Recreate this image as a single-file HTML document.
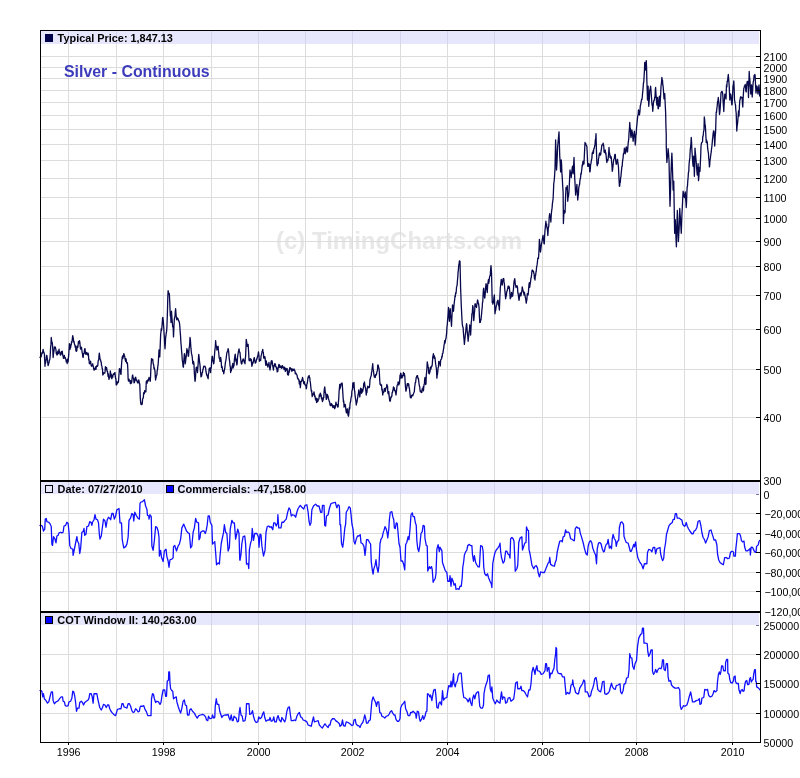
<!DOCTYPE html>
<html><head><meta charset="utf-8"><title>Silver - Continuous</title>
<style>html,body{margin:0;padding:0;background:#fff;}body{width:800px;height:778px;overflow:hidden;font-family:"Liberation Sans",sans-serif;}svg{display:block;will-change:transform;}text{font-family:"Liberation Sans",sans-serif;}</style>
</head><body>
<svg width="800" height="778" viewBox="0 0 800 778">
<rect x="0" y="0" width="800" height="778" fill="#ffffff"/>
<text x="276" y="249" font-size="24" font-weight="bold" fill="#e8e8e8" textLength="246" lengthAdjust="spacingAndGlyphs">(c) TimingCharts.com</text>
<g shape-rendering="crispEdges" stroke="#dcdcdc" stroke-width="1" fill="none">
<line x1="68.5" y1="31" x2="68.5" y2="742"/>
<line x1="116.5" y1="31" x2="116.5" y2="742"/>
<line x1="163.5" y1="31" x2="163.5" y2="742"/>
<line x1="211.5" y1="31" x2="211.5" y2="742"/>
<line x1="258.5" y1="31" x2="258.5" y2="742"/>
<line x1="305.5" y1="31" x2="305.5" y2="742"/>
<line x1="352.5" y1="31" x2="352.5" y2="742"/>
<line x1="400.5" y1="31" x2="400.5" y2="742"/>
<line x1="447.5" y1="31" x2="447.5" y2="742"/>
<line x1="494.5" y1="31" x2="494.5" y2="742"/>
<line x1="542.5" y1="31" x2="542.5" y2="742"/>
<line x1="589.5" y1="31" x2="589.5" y2="742"/>
<line x1="636.5" y1="31" x2="636.5" y2="742"/>
<line x1="684.5" y1="31" x2="684.5" y2="742"/>
<line x1="732.5" y1="31" x2="732.5" y2="742"/>
<line x1="41" y1="56.5" x2="760" y2="56.5"/>
<line x1="41" y1="67.5" x2="760" y2="67.5"/>
<line x1="41" y1="78.5" x2="760" y2="78.5"/>
<line x1="41" y1="90.5" x2="760" y2="90.5"/>
<line x1="41" y1="102.5" x2="760" y2="102.5"/>
<line x1="41" y1="115.5" x2="760" y2="115.5"/>
<line x1="41" y1="129.5" x2="760" y2="129.5"/>
<line x1="41" y1="144.5" x2="760" y2="144.5"/>
<line x1="41" y1="160.5" x2="760" y2="160.5"/>
<line x1="41" y1="178.5" x2="760" y2="178.5"/>
<line x1="41" y1="197.5" x2="760" y2="197.5"/>
<line x1="41" y1="218.5" x2="760" y2="218.5"/>
<line x1="41" y1="241.5" x2="760" y2="241.5"/>
<line x1="41" y1="266.5" x2="760" y2="266.5"/>
<line x1="41" y1="295.5" x2="760" y2="295.5"/>
<line x1="41" y1="329.5" x2="760" y2="329.5"/>
<line x1="41" y1="369.5" x2="760" y2="369.5"/>
<line x1="41" y1="417.5" x2="760" y2="417.5"/>
<line x1="41" y1="513.5" x2="760" y2="513.5"/>
<line x1="41" y1="533.5" x2="760" y2="533.5"/>
<line x1="41" y1="552.5" x2="760" y2="552.5"/>
<line x1="41" y1="572.5" x2="760" y2="572.5"/>
<line x1="41" y1="591.5" x2="760" y2="591.5"/>
<line x1="41" y1="654.5" x2="760" y2="654.5"/>
<line x1="41" y1="683.5" x2="760" y2="683.5"/>
<line x1="41" y1="713.5" x2="760" y2="713.5"/>
</g>
<rect x="41" y="31" width="718" height="13" fill="#e6e6fc" shape-rendering="crispEdges"/>
<rect x="68" y="31" width="1" height="13" fill="#d4d4ee" shape-rendering="crispEdges"/>
<rect x="116" y="31" width="1" height="13" fill="#d4d4ee" shape-rendering="crispEdges"/>
<rect x="163" y="31" width="1" height="13" fill="#d4d4ee" shape-rendering="crispEdges"/>
<rect x="211" y="31" width="1" height="13" fill="#d4d4ee" shape-rendering="crispEdges"/>
<rect x="258" y="31" width="1" height="13" fill="#d4d4ee" shape-rendering="crispEdges"/>
<rect x="305" y="31" width="1" height="13" fill="#d4d4ee" shape-rendering="crispEdges"/>
<rect x="352" y="31" width="1" height="13" fill="#d4d4ee" shape-rendering="crispEdges"/>
<rect x="400" y="31" width="1" height="13" fill="#d4d4ee" shape-rendering="crispEdges"/>
<rect x="447" y="31" width="1" height="13" fill="#d4d4ee" shape-rendering="crispEdges"/>
<rect x="494" y="31" width="1" height="13" fill="#d4d4ee" shape-rendering="crispEdges"/>
<rect x="542" y="31" width="1" height="13" fill="#d4d4ee" shape-rendering="crispEdges"/>
<rect x="589" y="31" width="1" height="13" fill="#d4d4ee" shape-rendering="crispEdges"/>
<rect x="636" y="31" width="1" height="13" fill="#d4d4ee" shape-rendering="crispEdges"/>
<rect x="684" y="31" width="1" height="13" fill="#d4d4ee" shape-rendering="crispEdges"/>
<rect x="732" y="31" width="1" height="13" fill="#d4d4ee" shape-rendering="crispEdges"/>
<rect x="41" y="482" width="718" height="12" fill="#e6e6fc" shape-rendering="crispEdges"/>
<rect x="68" y="482" width="1" height="12" fill="#d4d4ee" shape-rendering="crispEdges"/>
<rect x="116" y="482" width="1" height="12" fill="#d4d4ee" shape-rendering="crispEdges"/>
<rect x="163" y="482" width="1" height="12" fill="#d4d4ee" shape-rendering="crispEdges"/>
<rect x="211" y="482" width="1" height="12" fill="#d4d4ee" shape-rendering="crispEdges"/>
<rect x="258" y="482" width="1" height="12" fill="#d4d4ee" shape-rendering="crispEdges"/>
<rect x="305" y="482" width="1" height="12" fill="#d4d4ee" shape-rendering="crispEdges"/>
<rect x="352" y="482" width="1" height="12" fill="#d4d4ee" shape-rendering="crispEdges"/>
<rect x="400" y="482" width="1" height="12" fill="#d4d4ee" shape-rendering="crispEdges"/>
<rect x="447" y="482" width="1" height="12" fill="#d4d4ee" shape-rendering="crispEdges"/>
<rect x="494" y="482" width="1" height="12" fill="#d4d4ee" shape-rendering="crispEdges"/>
<rect x="542" y="482" width="1" height="12" fill="#d4d4ee" shape-rendering="crispEdges"/>
<rect x="589" y="482" width="1" height="12" fill="#d4d4ee" shape-rendering="crispEdges"/>
<rect x="636" y="482" width="1" height="12" fill="#d4d4ee" shape-rendering="crispEdges"/>
<rect x="684" y="482" width="1" height="12" fill="#d4d4ee" shape-rendering="crispEdges"/>
<rect x="732" y="482" width="1" height="12" fill="#d4d4ee" shape-rendering="crispEdges"/>
<rect x="41" y="613" width="718" height="12" fill="#e6e6fc" shape-rendering="crispEdges"/>
<rect x="68" y="613" width="1" height="12" fill="#d4d4ee" shape-rendering="crispEdges"/>
<rect x="116" y="613" width="1" height="12" fill="#d4d4ee" shape-rendering="crispEdges"/>
<rect x="163" y="613" width="1" height="12" fill="#d4d4ee" shape-rendering="crispEdges"/>
<rect x="211" y="613" width="1" height="12" fill="#d4d4ee" shape-rendering="crispEdges"/>
<rect x="258" y="613" width="1" height="12" fill="#d4d4ee" shape-rendering="crispEdges"/>
<rect x="305" y="613" width="1" height="12" fill="#d4d4ee" shape-rendering="crispEdges"/>
<rect x="352" y="613" width="1" height="12" fill="#d4d4ee" shape-rendering="crispEdges"/>
<rect x="400" y="613" width="1" height="12" fill="#d4d4ee" shape-rendering="crispEdges"/>
<rect x="447" y="613" width="1" height="12" fill="#d4d4ee" shape-rendering="crispEdges"/>
<rect x="494" y="613" width="1" height="12" fill="#d4d4ee" shape-rendering="crispEdges"/>
<rect x="542" y="613" width="1" height="12" fill="#d4d4ee" shape-rendering="crispEdges"/>
<rect x="589" y="613" width="1" height="12" fill="#d4d4ee" shape-rendering="crispEdges"/>
<rect x="636" y="613" width="1" height="12" fill="#d4d4ee" shape-rendering="crispEdges"/>
<rect x="684" y="613" width="1" height="12" fill="#d4d4ee" shape-rendering="crispEdges"/>
<rect x="732" y="613" width="1" height="12" fill="#d4d4ee" shape-rendering="crispEdges"/>
<text x="64" y="77" font-size="15.9" font-weight="bold" fill="#3c3cbc">Silver - Continuous</text>
<path d="M40.00,357.50 L40.31,356.85 L40.62,357.54 L40.94,356.27 L41.25,356.25 L41.56,354.70 L41.87,352.75 L42.19,352.54 L42.50,353.12 L42.81,351.08 L43.12,349.38 L43.44,351.82 L43.75,351.89 L44.06,353.17 L44.38,353.75 L44.69,360.24 L45.00,366.25 L45.30,361.96 L45.60,363.11 L45.90,360.53 L46.20,358.39 L46.50,355.62 L46.82,355.42 L47.15,357.35 L47.47,360.46 L47.80,363.01 L48.12,365.62 L48.43,364.77 L48.75,363.06 L49.06,362.55 L49.37,359.79 L49.69,359.77 L50.00,358.12 L50.31,353.48 L50.62,346.95 L50.94,344.89 L51.25,337.50 L51.56,340.10 L51.88,342.81 L52.19,342.32 L52.50,345.00 L52.81,350.29 L53.12,357.50 L53.44,354.40 L53.75,352.05 L54.06,350.36 L54.38,346.88 L54.69,347.67 L55.00,347.23 L55.31,347.04 L55.62,348.75 L55.94,349.64 L56.25,353.46 L56.56,352.39 L56.88,355.00 L57.19,354.69 L57.50,354.30 L57.81,351.19 L58.13,352.56 L58.44,353.57 L58.75,351.25 L59.06,349.26 L59.37,352.08 L59.69,352.99 L60.00,352.69 L60.31,355.02 L60.62,355.00 L60.95,354.17 L61.27,351.60 L61.60,353.83 L61.92,352.87 L62.25,351.25 L62.69,354.98 L63.12,356.25 L63.43,358.33 L63.75,357.14 L64.06,357.03 L64.37,355.39 L64.69,358.09 L65.00,357.50 L65.31,357.80 L65.62,359.10 L65.94,359.14 L66.25,361.88 L66.56,360.62 L66.87,361.19 L67.19,363.56 L67.50,359.24 L67.81,359.98 L68.12,361.88 L68.44,357.66 L68.75,354.69 L69.06,349.03 L69.38,343.75 L69.69,344.10 L70.00,349.38 L70.31,345.01 L70.62,347.65 L70.94,345.14 L71.25,345.00 L71.55,341.67 L71.85,342.52 L72.15,340.80 L72.45,337.70 L72.75,335.62 L73.06,337.35 L73.38,339.00 L73.69,341.91 L74.00,341.25 L74.33,343.51 L74.67,344.84 L75.00,345.62 L75.30,347.46 L75.60,345.83 L75.90,350.66 L76.20,351.37 L76.50,351.25 L76.82,350.69 L77.15,346.18 L77.47,346.68 L77.80,347.34 L78.12,345.00 L78.44,341.55 L78.75,342.57 L79.06,343.04 L79.38,340.62 L79.81,342.05 L80.25,346.88 L80.56,349.13 L80.88,347.91 L81.19,347.15 L81.50,347.50 L81.82,349.92 L82.15,352.34 L82.47,353.66 L82.80,356.99 L83.12,357.50 L83.45,354.89 L83.77,353.46 L84.10,353.60 L84.42,350.53 L84.75,348.75 L85.05,348.73 L85.35,352.23 L85.65,354.03 L85.95,352.68 L86.25,354.38 L86.56,352.38 L86.87,353.78 L87.19,353.56 L87.50,353.15 L87.81,355.16 L88.12,353.12 L88.44,354.44 L88.75,360.07 L89.06,359.44 L89.38,363.75 L89.69,362.10 L90.00,363.32 L90.31,363.34 L90.62,361.25 L91.06,364.87 L91.50,366.25 L91.81,366.07 L92.12,365.19 L92.44,364.57 L92.75,363.75 L93.06,366.06 L93.38,366.65 L93.69,368.80 L94.00,370.00 L94.32,370.12 L94.65,368.75 L94.97,369.12 L95.30,368.24 L95.62,366.88 L95.93,369.39 L96.25,367.09 L96.56,366.01 L96.87,365.98 L97.19,366.34 L97.50,366.25 L97.80,365.32 L98.10,361.56 L98.40,360.37 L98.70,360.13 L99.00,355.62 L99.32,353.16 L99.65,355.91 L99.97,358.57 L100.30,359.64 L100.62,360.00 L100.94,361.87 L101.25,362.56 L101.56,365.54 L101.88,366.25 L102.19,368.49 L102.50,369.32 L102.81,375.03 L103.12,373.75 L103.45,374.09 L103.77,372.78 L104.10,373.24 L104.42,372.95 L104.75,373.12 L105.06,371.63 L105.38,366.76 L105.69,368.27 L106.00,367.50 L106.30,369.56 L106.60,367.48 L106.90,369.66 L107.20,371.74 L107.50,371.25 L107.80,373.99 L108.10,376.44 L108.40,373.92 L108.70,377.29 L109.00,379.38 L109.32,377.68 L109.65,377.69 L109.97,377.04 L110.30,370.88 L110.62,373.12 L110.94,375.94 L111.25,374.05 L111.56,378.23 L111.88,378.75 L112.19,375.72 L112.50,376.79 L112.81,377.03 L113.12,374.38 L113.43,373.87 L113.75,374.00 L114.06,374.48 L114.37,373.31 L114.69,372.70 L115.00,372.50 L115.30,376.74 L115.60,378.36 L115.90,378.87 L116.20,385.07 L116.50,383.75 L116.83,381.84 L117.17,384.11 L117.50,382.15 L117.83,382.26 L118.17,382.58 L118.50,381.25 L118.94,375.29 L119.38,368.75 L119.70,370.71 L120.03,369.02 L120.35,370.17 L120.68,374.05 L121.00,374.38 L121.44,365.94 L121.88,360.00 L122.19,357.62 L122.50,356.01 L122.81,358.52 L123.13,356.80 L123.44,356.71 L123.75,353.75 L124.06,353.78 L124.38,356.25 L124.69,356.02 L125.00,358.75 L125.31,360.06 L125.62,361.44 L125.94,358.53 L126.25,360.00 L126.56,362.97 L126.88,363.16 L127.19,362.58 L127.50,363.75 L127.81,368.69 L128.12,378.75 L128.43,381.00 L128.75,379.46 L129.06,379.22 L129.37,380.94 L129.69,381.37 L130.00,381.25 L130.31,383.51 L130.62,380.55 L130.94,383.66 L131.25,382.50 L131.55,382.93 L131.85,381.39 L132.15,377.77 L132.45,375.53 L132.75,375.00 L133.08,377.82 L133.40,378.15 L133.73,379.66 L134.05,382.85 L134.38,382.50 L134.70,381.41 L135.03,378.01 L135.35,379.75 L135.68,377.09 L136.00,378.75 L136.30,380.56 L136.60,380.66 L136.90,380.21 L137.20,381.74 L137.50,382.50 L137.81,382.96 L138.12,381.35 L138.44,382.35 L138.75,380.00 L139.08,381.17 L139.42,383.85 L139.75,383.75 L140.30,398.00 L140.63,402.11 L140.97,404.43 L141.30,404.50 L141.63,403.13 L141.97,404.64 L142.30,403.00 L142.63,398.89 L142.97,398.26 L143.30,398.00 L143.65,392.70 L144.00,392.50 L144.32,393.76 L144.63,390.65 L144.95,392.11 L145.27,391.75 L145.58,391.84 L145.90,391.75 L146.25,382.00 L146.55,380.83 L146.85,381.50 L147.15,383.13 L147.45,380.46 L147.75,380.00 L148.08,380.44 L148.40,380.80 L148.73,378.99 L149.05,377.36 L149.38,378.75 L149.81,379.28 L150.25,381.25 L150.56,377.02 L150.88,367.86 L151.19,363.60 L151.50,358.75 L151.81,360.22 L152.12,360.10 L152.44,359.23 L152.75,359.38 L153.06,362.77 L153.38,364.28 L153.69,364.87 L154.00,368.75 L154.33,367.55 L154.67,369.59 L155.00,371.25 L155.31,376.82 L155.62,380.00 L155.94,378.01 L156.25,376.33 L156.56,375.25 L156.88,375.00 L157.19,370.51 L157.50,369.85 L157.81,365.97 L158.12,365.00 L158.56,357.97 L159.00,350.00 L159.38,350.37 L159.75,356.88 L160.19,346.37 L160.62,335.00 L160.94,332.29 L161.25,328.73 L161.56,330.32 L161.88,327.50 L162.21,323.81 L162.55,317.93 L162.88,317.50 L163.31,321.36 L163.75,327.50 L164.06,333.19 L164.38,337.53 L164.69,344.45 L165.00,348.75 L165.31,344.10 L165.62,337.50 L165.94,335.87 L166.25,332.92 L166.56,331.73 L166.88,327.50 L167.19,319.14 L167.50,309.65 L167.81,297.13 L168.12,290.62 L168.44,292.73 L168.75,294.20 L169.06,293.05 L169.38,294.38 L169.69,300.95 L170.00,308.75 L170.33,315.86 L170.67,315.63 L171.00,322.50 L171.50,311.25 L171.88,316.86 L172.25,321.25 L172.69,326.90 L173.12,326.25 L173.50,336.88 L173.94,326.61 L174.38,318.75 L174.69,317.15 L175.00,316.20 L175.31,311.09 L175.62,308.75 L176.06,314.48 L176.50,318.75 L176.82,319.92 L177.15,317.57 L177.47,318.63 L177.80,319.13 L178.12,318.75 L178.44,320.76 L178.75,320.58 L179.06,321.31 L179.38,322.50 L179.81,326.18 L180.25,332.50 L180.58,336.62 L180.92,342.83 L181.25,346.25 L181.58,350.97 L181.92,354.31 L182.25,360.00 L182.69,362.35 L183.12,366.88 L183.44,367.06 L183.75,361.80 L184.06,357.86 L184.38,353.75 L184.81,355.38 L185.25,363.75 L185.58,361.56 L185.90,358.37 L186.23,356.94 L186.55,352.31 L186.88,348.75 L187.20,350.16 L187.53,352.43 L187.85,350.72 L188.18,356.09 L188.50,356.25 L188.80,352.92 L189.10,347.84 L189.40,346.72 L189.70,343.60 L190.00,337.50 L190.31,339.11 L190.62,343.51 L190.94,348.19 L191.25,351.25 L191.56,353.68 L191.88,355.11 L192.19,356.55 L192.50,360.00 L192.80,363.76 L193.10,363.35 L193.40,361.45 L193.70,362.25 L194.00,365.00 L194.33,372.63 L194.67,377.12 L195.00,381.25 L195.31,380.18 L195.62,375.43 L195.94,369.80 L196.25,367.50 L196.56,369.09 L196.88,367.19 L197.19,370.28 L197.50,372.50 L197.81,367.89 L198.12,364.12 L198.44,357.96 L198.75,354.38 L199.06,356.87 L199.38,360.29 L199.69,362.83 L200.00,365.00 L200.33,369.79 L200.67,373.19 L201.00,376.88 L201.30,375.58 L201.60,376.15 L201.90,374.32 L202.20,372.30 L202.50,372.50 L202.81,370.12 L203.12,369.37 L203.44,367.67 L203.75,366.25 L204.06,366.45 L204.38,366.25 L204.69,366.48 L205.00,366.25 L205.31,367.64 L205.62,367.74 L205.94,371.49 L206.25,372.50 L206.56,374.91 L206.87,375.15 L207.19,375.38 L207.50,377.25 L207.81,376.45 L208.12,378.75 L208.44,373.63 L208.75,373.51 L209.06,369.57 L209.38,368.12 L209.69,370.18 L210.00,368.90 L210.31,367.99 L210.62,372.50 L210.95,367.90 L211.27,368.05 L211.60,362.25 L211.92,357.72 L212.25,356.25 L212.55,356.76 L212.85,359.93 L213.15,361.40 L213.45,362.48 L213.75,363.75 L214.06,361.82 L214.37,356.96 L214.69,352.16 L215.00,349.11 L215.31,346.63 L215.62,340.62 L215.94,344.23 L216.25,346.64 L216.56,346.25 L216.88,350.00 L217.19,348.87 L217.50,349.07 L217.81,346.80 L218.12,346.25 L218.44,350.76 L218.75,353.28 L219.06,356.81 L219.38,358.75 L219.69,358.16 L220.00,361.44 L220.31,359.42 L220.62,357.50 L220.94,359.41 L221.25,361.99 L221.56,367.44 L221.88,366.25 L222.19,367.05 L222.50,369.89 L222.81,371.27 L223.13,371.26 L223.44,370.98 L223.75,373.75 L224.06,371.91 L224.37,370.05 L224.69,368.97 L225.00,366.43 L225.31,363.37 L225.62,361.25 L225.94,360.17 L226.25,357.58 L226.56,354.96 L226.88,352.50 L227.18,351.95 L227.48,350.94 L227.78,351.52 L228.08,348.63 L228.38,349.38 L228.71,352.10 L229.05,356.47 L229.38,360.00 L229.69,361.22 L230.00,365.68 L230.31,366.76 L230.62,372.50 L230.93,370.36 L231.25,370.74 L231.56,369.49 L231.87,367.43 L232.19,365.95 L232.50,365.00 L232.81,363.47 L233.12,368.00 L233.44,366.61 L233.75,366.25 L234.06,364.86 L234.38,359.48 L234.69,357.57 L235.00,355.00 L235.31,354.30 L235.63,359.35 L235.94,361.22 L236.25,359.20 L236.57,363.27 L236.88,365.00 L237.19,363.32 L237.50,357.71 L237.81,355.13 L238.13,353.62 L238.44,351.68 L238.75,350.00 L239.06,348.80 L239.38,351.29 L239.69,352.20 L240.00,352.50 L240.31,356.45 L240.62,358.75 L240.94,360.91 L241.25,363.20 L241.56,364.01 L241.88,363.75 L242.20,361.17 L242.53,361.34 L242.85,359.75 L243.18,358.85 L243.50,359.38 L243.80,360.15 L244.10,361.14 L244.40,362.64 L244.70,360.81 L245.00,363.75 L245.31,358.39 L245.62,356.25 L245.94,347.78 L246.25,339.38 L246.58,341.41 L246.92,343.56 L247.25,346.25 L247.69,345.23 L248.12,344.38 L248.56,351.20 L249.00,360.00 L249.32,360.79 L249.65,360.21 L249.97,359.51 L250.30,358.63 L250.62,359.38 L250.94,360.87 L251.25,359.28 L251.56,363.26 L251.88,366.25 L252.19,365.36 L252.50,362.42 L252.81,363.70 L253.12,362.50 L253.56,360.50 L254.00,358.12 L254.31,357.58 L254.62,360.29 L254.94,361.46 L255.25,363.12 L255.58,362.97 L255.90,362.42 L256.23,360.83 L256.55,359.02 L256.88,359.38 L257.20,357.69 L257.53,356.29 L257.85,355.83 L258.18,353.76 L258.50,351.88 L258.94,355.63 L259.38,361.25 L259.69,359.33 L260.00,360.45 L260.31,359.81 L260.62,360.62 L261.06,356.05 L261.50,354.38 L261.81,352.98 L262.12,351.24 L262.44,350.77 L262.75,349.38 L263.06,351.94 L263.38,352.59 L263.69,358.03 L264.00,356.88 L264.33,356.46 L264.67,358.31 L265.00,356.88 L265.31,360.47 L265.62,363.75 L265.93,365.31 L266.25,360.87 L266.56,363.09 L266.87,364.49 L267.19,365.06 L267.50,364.38 L267.80,367.04 L268.10,364.05 L268.40,364.92 L268.70,363.87 L269.00,362.50 L269.33,366.23 L269.67,368.16 L270.00,370.00 L270.33,367.30 L270.67,365.66 L271.00,362.50 L271.31,360.94 L271.62,363.73 L271.94,360.71 L272.25,361.88 L272.69,365.32 L273.12,368.12 L273.45,370.00 L273.77,366.08 L274.10,365.52 L274.42,366.14 L274.75,363.75 L275.05,364.41 L275.35,363.95 L275.65,365.96 L275.95,367.01 L276.25,366.88 L276.56,368.74 L276.88,367.75 L277.19,371.96 L277.50,370.62 L277.80,371.54 L278.10,368.15 L278.40,367.23 L278.70,365.07 L279.00,364.38 L279.31,367.00 L279.62,365.02 L279.94,367.60 L280.25,367.50 L280.58,366.63 L280.90,366.10 L281.23,367.68 L281.55,368.23 L281.88,366.25 L282.19,366.39 L282.50,365.68 L282.81,367.78 L283.12,366.88 L283.43,367.02 L283.75,367.70 L284.06,369.48 L284.37,369.18 L284.69,367.24 L285.00,368.12 L285.31,371.40 L285.63,368.75 L285.94,370.08 L286.25,368.53 L286.57,369.63 L286.88,370.00 L287.20,368.73 L287.53,374.32 L287.85,374.78 L288.18,372.42 L288.50,375.00 L288.80,371.54 L289.10,369.89 L289.40,372.03 L289.70,368.40 L290.00,367.50 L290.31,368.05 L290.63,368.34 L290.94,369.22 L291.25,368.59 L291.57,370.66 L291.88,371.25 L292.20,369.01 L292.53,370.41 L292.85,370.53 L293.18,370.36 L293.50,369.38 L293.80,369.45 L294.10,368.95 L294.40,370.71 L294.70,370.25 L295.00,371.25 L295.31,373.91 L295.62,373.50 L295.94,372.98 L296.25,373.75 L296.56,374.23 L296.88,375.02 L297.19,375.81 L297.50,378.12 L297.81,377.98 L298.12,379.13 L298.44,379.74 L298.75,379.38 L299.06,381.06 L299.37,383.98 L299.69,381.27 L300.00,383.14 L300.31,387.70 L300.62,385.00 L300.93,381.32 L301.25,381.82 L301.56,381.47 L301.87,380.20 L302.19,379.28 L302.50,377.50 L302.80,378.44 L303.10,380.48 L303.40,381.32 L303.70,383.50 L304.00,383.75 L304.31,381.60 L304.62,383.22 L304.94,384.68 L305.25,385.00 L305.58,384.91 L305.92,386.14 L306.25,388.75 L306.56,387.59 L306.87,383.95 L307.19,383.64 L307.50,381.81 L307.81,379.26 L308.12,376.88 L308.45,377.66 L308.77,376.99 L309.10,375.42 L309.42,377.34 L309.75,377.50 L310.06,380.90 L310.38,382.44 L310.69,385.81 L311.00,388.75 L311.30,391.10 L311.60,390.36 L311.90,393.70 L312.20,396.67 L312.50,395.62 L312.80,394.15 L313.10,394.31 L313.40,393.18 L313.70,394.63 L314.00,391.88 L314.32,393.92 L314.65,396.30 L314.97,395.85 L315.30,398.36 L315.62,400.00 L315.93,400.20 L316.25,398.11 L316.56,402.50 L316.87,402.00 L317.19,398.77 L317.50,401.25 L317.80,401.59 L318.10,399.83 L318.40,399.95 L318.70,399.22 L319.00,398.12 L319.31,394.92 L319.62,395.34 L319.94,396.31 L320.25,393.12 L320.56,393.78 L320.88,394.61 L321.19,395.58 L321.50,398.75 L321.82,397.41 L322.15,399.69 L322.47,401.70 L322.80,400.31 L323.12,400.00 L323.45,397.70 L323.77,397.66 L324.10,391.45 L324.42,388.63 L324.75,386.88 L325.05,390.07 L325.35,392.59 L325.65,393.06 L325.95,395.36 L326.25,399.38 L326.56,398.66 L326.88,397.51 L327.19,394.40 L327.50,395.00 L327.81,395.88 L328.13,396.59 L328.44,399.04 L328.75,399.43 L329.07,400.62 L329.38,401.88 L329.69,402.05 L330.00,404.50 L330.31,405.56 L330.62,404.38 L330.93,404.01 L331.25,405.69 L331.56,403.71 L331.87,404.89 L332.19,405.87 L332.50,405.00 L332.82,407.50 L333.14,405.57 L333.46,406.51 L333.79,407.40 L334.11,405.73 L334.43,408.23 L334.75,408.75 L335.05,406.87 L335.35,407.23 L335.65,404.28 L335.95,402.18 L336.25,403.75 L336.56,404.32 L336.87,405.13 L337.19,404.60 L337.50,406.99 L337.81,406.00 L338.12,406.88 L338.45,401.59 L338.77,398.50 L339.10,391.34 L339.42,388.00 L339.75,384.38 L340.00,388.75 L340.33,387.06 L340.67,386.52 L341.00,383.75 L341.31,383.54 L341.62,384.15 L341.94,382.90 L342.25,383.75 L342.69,391.02 L343.12,397.50 L343.44,401.85 L343.75,400.98 L344.06,407.14 L344.38,406.25 L344.81,404.48 L345.25,404.38 L345.58,407.11 L345.92,410.02 L346.25,412.50 L346.58,413.00 L346.92,409.23 L347.25,410.00 L347.56,408.83 L347.88,413.91 L348.19,415.72 L348.50,416.25 L348.94,412.69 L349.38,407.50 L349.70,409.04 L350.03,404.01 L350.35,402.20 L350.68,401.20 L351.00,398.12 L351.30,396.73 L351.60,396.53 L351.90,390.89 L352.20,390.14 L352.50,388.75 L352.80,383.02 L353.10,387.31 L353.40,384.52 L353.70,384.95 L354.00,382.50 L354.33,389.47 L354.67,390.83 L355.00,395.00 L355.31,397.17 L355.62,399.35 L355.94,401.41 L356.25,405.00 L356.56,402.62 L356.88,402.71 L357.19,400.36 L357.50,398.75 L357.81,396.65 L358.12,394.15 L358.44,393.38 L358.75,390.00 L359.08,392.94 L359.42,394.40 L359.75,396.88 L360.19,393.36 L360.62,388.12 L360.94,389.02 L361.25,388.81 L361.56,393.30 L361.88,392.50 L362.19,392.17 L362.50,389.38 L362.81,391.09 L363.12,388.75 L363.44,387.48 L363.75,383.28 L364.06,385.69 L364.38,381.88 L364.69,384.03 L365.00,386.47 L365.31,387.29 L365.62,388.75 L365.94,391.68 L366.25,395.00 L366.55,391.24 L366.85,392.76 L367.15,389.79 L367.45,387.63 L367.75,386.25 L368.08,386.96 L368.40,386.85 L368.73,387.88 L369.05,386.77 L369.38,387.50 L369.69,384.80 L370.00,379.41 L370.31,378.98 L370.62,376.88 L370.94,376.35 L371.25,375.80 L371.56,372.18 L371.88,371.25 L372.31,367.34 L372.75,363.75 L373.08,369.14 L373.42,369.99 L373.75,373.75 L374.06,375.33 L374.38,377.18 L374.69,375.68 L375.00,376.25 L375.30,377.47 L375.60,374.58 L375.90,375.40 L376.20,374.65 L376.50,374.38 L376.81,372.18 L377.12,371.16 L377.44,370.45 L377.75,365.00 L378.06,364.91 L378.38,365.81 L378.69,367.99 L379.00,368.12 L379.33,371.96 L379.67,379.19 L380.00,383.75 L380.31,384.81 L380.62,384.01 L380.94,385.38 L381.25,385.00 L381.55,384.99 L381.85,389.99 L382.15,388.99 L382.45,392.09 L382.75,395.00 L383.08,393.03 L383.40,391.98 L383.73,392.37 L384.05,390.11 L384.38,388.75 L384.69,388.39 L385.00,389.77 L385.31,391.28 L385.62,389.38 L385.94,388.14 L386.25,387.36 L386.56,387.24 L386.88,384.38 L387.20,386.35 L387.53,385.96 L387.85,392.49 L388.18,393.75 L388.50,392.50 L388.80,391.67 L389.10,395.95 L389.40,398.29 L389.70,400.76 L390.00,401.25 L390.30,401.12 L390.60,398.90 L390.90,396.88 L391.20,397.38 L391.50,396.25 L391.83,396.34 L392.17,392.33 L392.50,392.50 L392.80,390.16 L393.10,390.47 L393.40,386.98 L393.70,388.16 L394.00,387.50 L394.33,388.18 L394.67,390.59 L395.00,390.34 L395.33,391.35 L395.67,393.24 L396.00,395.00 L396.44,391.19 L396.88,387.50 L397.19,385.23 L397.50,384.71 L397.81,384.26 L398.12,381.88 L398.44,383.89 L398.75,385.03 L399.06,382.26 L399.38,383.75 L399.69,380.55 L400.00,375.21 L400.31,378.25 L400.62,373.12 L400.94,373.43 L401.25,375.58 L401.56,377.55 L401.88,378.12 L402.19,375.57 L402.50,377.16 L402.81,375.75 L403.12,375.00 L403.44,372.31 L403.75,374.75 L404.06,375.62 L404.38,373.75 L404.81,376.32 L405.25,383.75 L405.62,388.55 L406.00,391.25 L406.31,389.65 L406.62,388.12 L406.94,386.20 L407.25,383.75 L407.55,385.57 L407.85,383.71 L408.15,385.26 L408.45,383.72 L408.75,384.38 L409.06,387.67 L409.38,388.01 L409.69,391.27 L410.00,393.75 L410.33,397.46 L410.67,397.24 L411.00,398.12 L411.30,397.29 L411.60,395.38 L411.90,395.22 L412.20,395.88 L412.50,395.00 L412.80,395.72 L413.10,394.55 L413.40,394.18 L413.70,392.95 L414.00,392.50 L414.33,391.76 L414.67,386.99 L415.00,385.00 L415.31,382.41 L415.62,382.40 L415.94,379.46 L416.25,377.50 L416.56,376.67 L416.88,375.81 L417.19,375.76 L417.50,375.62 L417.81,377.84 L418.12,378.89 L418.44,378.27 L418.75,381.25 L419.06,383.99 L419.38,385.86 L419.69,386.51 L420.00,390.00 L420.31,391.63 L420.62,390.89 L420.94,391.44 L421.25,392.50 L421.56,392.60 L421.88,392.34 L422.19,388.79 L422.50,388.75 L422.81,389.01 L423.12,386.99 L423.44,390.82 L423.75,387.50 L424.06,384.36 L424.38,384.05 L424.69,379.16 L425.00,377.50 L425.33,380.64 L425.67,384.55 L426.00,383.75 L426.31,374.98 L426.62,372.25 L426.94,368.00 L427.25,361.88 L427.69,364.26 L428.12,366.88 L428.44,367.73 L428.75,373.11 L429.06,372.14 L429.38,373.75 L429.69,370.20 L430.00,372.05 L430.31,367.29 L430.62,368.12 L430.94,369.15 L431.25,366.43 L431.56,366.91 L431.88,366.25 L432.19,365.23 L432.50,361.09 L432.81,356.47 L433.12,355.62 L433.43,353.73 L433.75,357.78 L434.06,357.52 L434.37,355.81 L434.69,358.30 L435.00,357.50 L435.33,361.06 L435.67,364.18 L436.00,366.25 L436.44,369.25 L436.88,378.12 L437.19,375.07 L437.50,373.98 L437.81,371.11 L438.12,367.50 L438.44,367.24 L438.75,361.50 L439.06,363.50 L439.38,361.88 L439.69,363.45 L440.00,363.75 L440.31,365.89 L440.62,360.16 L440.94,359.80 L441.25,359.10 L441.56,359.03 L441.87,356.12 L442.18,357.02 L442.50,353.33 L442.81,353.52 L443.12,352.00 L443.44,349.25 L443.75,348.08 L444.06,344.91 L444.38,343.75 L444.70,340.67 L445.03,343.17 L445.35,341.14 L445.68,339.02 L446.00,338.75 L446.31,335.57 L446.62,333.16 L446.94,327.17 L447.25,325.00 L447.56,320.48 L447.88,316.95 L448.19,312.56 L448.50,307.50 L448.94,313.94 L449.38,321.25 L449.81,312.26 L450.25,308.75 L450.56,314.74 L450.88,317.93 L451.19,321.89 L451.50,326.25 L451.83,318.80 L452.17,312.43 L452.50,305.00 L452.83,306.53 L453.17,307.83 L453.50,311.25 L453.81,307.16 L454.12,304.22 L454.44,301.08 L454.75,298.75 L455.05,295.74 L455.35,296.58 L455.65,292.55 L455.95,293.61 L456.25,291.25 L456.55,287.18 L456.85,286.21 L457.15,284.79 L457.45,280.51 L457.75,277.50 L458.08,272.38 L458.42,269.23 L458.75,265.00 L459.06,264.26 L459.38,260.87 L459.69,261.40 L460.00,261.25 L460.31,275.21 L460.62,288.75 L460.94,296.27 L461.25,305.00 L461.58,311.35 L461.92,318.45 L462.25,323.75 L462.69,326.62 L463.12,327.50 L463.44,332.90 L463.75,336.71 L464.06,339.79 L464.38,344.38 L464.69,341.39 L465.00,338.09 L465.31,335.06 L465.62,332.50 L466.06,327.89 L466.50,323.75 L466.82,325.01 L467.15,330.32 L467.47,334.22 L467.80,336.48 L468.12,341.25 L468.45,337.97 L468.77,335.42 L469.10,331.29 L469.42,330.95 L469.75,325.00 L470.19,326.61 L470.62,335.00 L470.94,329.42 L471.25,322.00 L471.56,320.34 L471.88,313.75 L472.31,313.14 L472.75,305.62 L473.08,307.37 L473.42,315.79 L473.75,320.62 L474.05,317.92 L474.35,313.48 L474.65,311.22 L474.95,304.21 L475.25,303.75 L475.56,305.80 L475.88,306.11 L476.19,306.59 L476.50,307.50 L476.83,304.24 L477.17,303.33 L477.50,300.00 L477.81,300.62 L478.12,302.79 L478.44,303.09 L478.75,305.00 L479.08,307.91 L479.42,316.63 L479.75,322.50 L480.06,322.14 L480.38,322.23 L480.69,319.49 L481.00,320.00 L481.30,316.46 L481.60,313.80 L481.90,309.69 L482.20,307.62 L482.50,302.50 L482.81,301.49 L483.12,294.13 L483.44,289.22 L483.75,288.12 L484.08,292.57 L484.42,296.77 L484.75,298.12 L485.06,295.73 L485.38,291.99 L485.69,286.54 L486.00,283.75 L486.31,285.01 L486.62,289.28 L486.94,289.13 L487.25,292.50 L487.69,284.83 L488.12,281.88 L488.44,279.64 L488.75,283.24 L489.06,281.56 L489.38,278.12 L489.81,275.98 L490.25,275.62 L490.62,269.67 L491.00,265.62 L491.50,272.50 L491.88,287.80 L492.25,302.50 L492.56,301.53 L492.88,304.20 L493.19,302.40 L493.50,302.50 L493.94,297.34 L494.38,295.00 L494.69,306.08 L495.00,313.75 L495.30,311.24 L495.60,310.54 L495.90,308.48 L496.20,306.34 L496.50,305.00 L496.83,304.17 L497.17,301.60 L497.50,301.25 L497.83,300.10 L498.17,300.88 L498.50,305.00 L498.94,305.85 L499.38,310.00 L499.81,298.39 L500.25,288.75 L500.58,285.60 L500.92,282.58 L501.25,279.38 L501.58,281.98 L501.92,283.28 L502.25,285.00 L502.69,280.84 L503.12,278.75 L503.44,279.08 L503.75,278.50 L504.06,282.28 L504.38,283.75 L504.69,288.13 L505.00,291.94 L505.31,294.84 L505.62,298.75 L505.94,296.65 L506.25,296.22 L506.56,293.15 L506.88,291.25 L507.19,290.96 L507.50,289.51 L507.81,287.78 L508.12,286.25 L508.44,288.26 L508.75,286.13 L509.06,286.72 L509.38,287.50 L509.81,292.07 L510.25,298.75 L510.56,296.15 L510.88,297.65 L511.19,296.35 L511.50,292.50 L511.83,293.78 L512.17,295.74 L512.50,296.25 L512.81,294.97 L513.12,291.67 L513.44,289.38 L513.75,285.00 L514.08,281.27 L514.42,280.00 L514.75,278.75 L515.06,281.53 L515.38,284.99 L515.69,285.45 L516.00,287.50 L516.31,286.07 L516.62,286.41 L516.94,285.70 L517.25,286.25 L517.55,287.63 L517.85,293.20 L518.15,292.94 L518.45,296.28 L518.75,298.75 L519.06,300.31 L519.38,297.79 L519.69,295.44 L520.00,293.75 L520.31,292.95 L520.62,294.28 L520.94,295.86 L521.25,293.75 L521.58,292.27 L521.92,290.81 L522.25,286.88 L522.56,288.41 L522.88,290.36 L523.19,290.83 L523.50,292.50 L523.80,293.55 L524.10,295.19 L524.40,292.14 L524.70,294.42 L525.00,295.00 L525.31,297.34 L525.62,298.32 L525.94,300.69 L526.25,303.12 L526.58,301.02 L526.92,299.48 L527.25,293.75 L527.68,295.19 L528.12,295.00 L528.56,290.11 L529.00,284.38 L529.33,282.57 L529.67,287.30 L530.00,285.00 L530.31,283.23 L530.62,281.21 L530.94,277.92 L531.25,277.50 L531.58,274.93 L531.92,271.08 L532.25,270.00 L532.56,270.40 L532.88,271.23 L533.19,270.98 L533.50,271.25 L533.80,273.36 L534.10,273.64 L534.40,278.36 L534.70,277.40 L535.00,280.00 L535.31,275.45 L535.62,275.38 L535.94,272.44 L536.25,271.25 L536.56,267.44 L536.88,265.79 L537.19,264.13 L537.50,261.25 L537.81,258.15 L538.12,257.95 L538.44,258.42 L538.75,255.00 L539.08,248.04 L539.40,239.30 L539.77,243.34 L540.13,247.93 L540.50,252.00 L540.87,248.84 L541.23,245.94 L541.60,243.00 L541.98,241.95 L542.37,238.88 L542.75,237.00 L543.05,235.27 L543.35,239.77 L543.65,240.04 L543.95,243.45 L544.25,244.00 L544.62,236.33 L545.00,230.25 L545.45,225.94 L545.90,221.25 L546.23,226.08 L546.57,223.89 L546.90,227.25 L547.22,228.54 L547.53,230.92 L547.85,235.50 L548.30,227.89 L548.75,226.50 L549.20,217.68 L549.65,213.75 L549.95,216.29 L550.25,217.05 L550.55,217.51 L550.85,222.00 L551.30,214.07 L551.75,210.00 L552.09,207.99 L552.43,203.37 L552.78,201.09 L553.12,198.75 L553.43,191.68 L553.75,183.75 L554.06,181.76 L554.38,178.77 L554.69,173.84 L555.00,168.75 L555.31,154.56 L555.62,140.00 L556.06,155.24 L556.50,170.00 L556.81,166.09 L557.12,159.36 L557.44,150.85 L557.75,145.00 L558.06,142.32 L558.38,138.81 L558.69,135.23 L559.00,131.88 L559.38,143.41 L559.75,156.25 L560.18,162.34 L560.62,171.88 L560.93,165.25 L561.25,160.00 L561.58,163.83 L561.92,173.26 L562.25,177.50 L562.68,185.70 L563.12,192.50 L563.40,223.50 L563.75,215.56 L564.10,210.75 L564.43,213.06 L564.77,212.91 L565.10,212.25 L565.55,197.39 L566.00,187.50 L566.31,189.42 L566.62,187.61 L566.94,188.77 L567.25,185.62 L567.75,201.25 L568.06,197.15 L568.38,196.94 L568.69,194.30 L569.00,191.25 L569.33,184.43 L569.67,177.31 L570.00,170.00 L570.31,173.24 L570.62,171.81 L570.94,174.01 L571.25,177.50 L571.56,172.88 L571.88,171.15 L572.19,168.28 L572.50,166.25 L572.81,170.48 L573.12,173.75 L573.56,165.97 L574.00,157.50 L574.38,168.17 L574.75,178.75 L575.18,186.00 L575.62,195.00 L575.93,191.77 L576.25,190.93 L576.57,188.03 L576.88,184.38 L577.32,192.32 L577.75,200.00 L578.06,196.14 L578.38,195.14 L578.69,188.92 L579.00,186.25 L579.31,185.22 L579.62,184.00 L579.94,180.28 L580.25,178.75 L580.58,177.82 L580.90,173.30 L581.23,174.07 L581.55,171.01 L581.88,168.75 L582.19,164.81 L582.50,165.87 L582.81,161.97 L583.12,161.25 L583.56,164.17 L584.00,163.75 L584.33,155.78 L584.67,149.37 L585.00,142.50 L585.33,143.49 L585.67,143.32 L586.00,144.38 L586.44,145.65 L586.88,146.25 L587.32,155.53 L587.75,166.25 L588.08,166.29 L588.42,164.59 L588.75,163.75 L589.06,166.06 L589.38,164.24 L589.69,171.36 L590.00,171.88 L590.31,169.26 L590.62,164.25 L590.94,164.03 L591.25,161.25 L591.56,159.67 L591.88,158.27 L592.19,153.28 L592.50,152.50 L592.81,153.73 L593.12,150.73 L593.44,153.27 L593.75,149.38 L594.06,148.09 L594.38,148.07 L594.69,145.62 L595.00,145.00 L595.33,139.80 L595.67,138.93 L596.00,133.75 L596.44,149.93 L596.88,163.75 L597.19,165.75 L597.50,164.86 L597.81,163.00 L598.12,163.75 L598.43,159.09 L598.75,157.90 L599.07,155.37 L599.38,153.75 L599.69,153.00 L600.00,155.13 L600.31,155.11 L600.62,155.00 L600.93,152.15 L601.25,150.22 L601.57,147.31 L601.88,145.00 L602.19,144.81 L602.50,145.04 L602.81,144.84 L603.12,143.12 L603.43,144.57 L603.75,145.85 L604.07,152.01 L604.38,152.50 L604.82,151.40 L605.25,150.00 L605.58,153.94 L605.90,152.86 L606.23,157.07 L606.55,160.04 L606.88,162.50 L607.19,159.69 L607.50,159.95 L607.81,160.63 L608.12,158.75 L608.56,154.53 L609.00,147.50 L609.33,152.91 L609.67,153.04 L610.00,157.50 L610.31,155.52 L610.62,157.87 L610.94,158.26 L611.25,156.88 L611.58,161.92 L611.92,164.77 L612.25,171.25 L612.56,169.77 L612.88,167.28 L613.19,164.47 L613.50,161.25 L613.80,159.24 L614.10,158.90 L614.40,158.16 L614.70,155.03 L615.00,154.38 L615.31,154.48 L615.62,159.81 L615.94,162.51 L616.25,164.38 L616.56,163.15 L616.88,163.04 L617.19,159.87 L617.50,159.38 L617.83,161.98 L618.17,164.40 L618.50,167.50 L618.94,177.62 L619.38,186.25 L619.69,186.14 L620.00,181.55 L620.31,182.36 L620.62,177.50 L620.93,176.68 L621.25,172.90 L621.57,169.83 L621.88,166.25 L622.19,166.36 L622.50,161.64 L622.81,159.54 L623.12,157.50 L623.43,153.77 L623.75,153.42 L624.07,152.21 L624.38,148.12 L624.82,151.63 L625.25,153.75 L625.58,152.01 L625.92,148.91 L626.25,146.88 L626.56,148.35 L626.88,147.53 L627.19,151.99 L627.50,151.88 L627.81,148.06 L628.12,143.88 L628.44,141.06 L628.75,138.75 L629.08,132.26 L629.42,129.03 L629.75,122.50 L630.06,127.63 L630.38,128.23 L630.69,134.95 L631.00,137.50 L631.44,134.90 L631.88,130.00 L632.19,132.06 L632.50,133.69 L632.81,137.47 L633.12,141.25 L633.43,137.93 L633.75,136.70 L634.07,133.29 L634.38,131.25 L634.82,135.49 L635.25,145.00 L635.58,141.30 L635.90,135.01 L636.23,134.18 L636.55,127.43 L636.88,125.00 L637.20,121.10 L637.53,117.89 L637.85,115.29 L638.18,114.69 L638.50,110.00 L638.94,113.61 L639.38,115.00 L639.69,113.28 L640.00,110.42 L640.31,105.49 L640.62,105.00 L640.95,102.82 L641.27,101.28 L641.60,99.23 L641.92,99.66 L642.25,97.50 L642.55,93.54 L642.85,90.58 L643.15,87.14 L643.45,82.83 L643.75,82.50 L644.08,76.61 L644.42,70.90 L644.75,62.50 L645.07,66.48 L645.38,70.00 L645.82,64.04 L646.25,60.62 L646.57,67.42 L646.88,81.25 L647.19,90.85 L647.50,100.00 L647.81,94.71 L648.12,86.25 L648.43,96.64 L648.75,106.25 L649.08,102.04 L649.42,97.34 L649.75,90.00 L650.18,89.59 L650.62,86.25 L651.06,91.30 L651.50,97.50 L651.81,102.31 L652.12,105.38 L652.44,105.81 L652.75,111.25 L653.08,107.39 L653.42,102.73 L653.75,101.25 L654.06,100.17 L654.38,100.13 L654.69,97.05 L655.00,97.50 L655.31,89.83 L655.62,87.50 L655.93,93.56 L656.25,96.74 L656.57,102.54 L656.88,105.00 L657.19,99.53 L657.50,97.50 L657.81,104.50 L658.12,108.75 L658.43,108.32 L658.75,105.11 L659.07,99.10 L659.38,96.25 L659.69,101.60 L660.00,106.25 L660.33,99.38 L660.67,94.21 L661.00,86.25 L661.44,83.22 L661.88,77.50 L662.19,79.80 L662.50,80.11 L662.81,85.03 L663.12,86.25 L663.56,91.89 L664.00,98.75 L664.38,97.07 L664.75,93.75 L665.18,103.47 L665.62,112.50 L665.93,125.86 L666.25,135.00 L666.25,145.00 L666.57,155.23 L666.88,162.50 L667.19,158.48 L667.50,156.08 L667.81,154.48 L668.12,148.75 L668.56,153.68 L669.00,160.00 L669.33,175.98 L669.67,192.38 L670.00,206.25 L670.33,197.05 L670.67,185.26 L671.00,173.75 L671.44,161.72 L671.88,153.12 L672.19,159.92 L672.50,170.00 L672.81,180.32 L673.12,190.00 L673.43,186.13 L673.75,181.25 L674.12,202.50 L674.65,233.25 L674.95,229.81 L675.25,219.75 L675.63,227.63 L676.02,239.23 L676.40,246.75 L676.72,235.63 L677.03,220.34 L677.35,210.40 L677.70,219.70 L678.05,231.35 L678.40,241.50 L678.77,234.48 L679.15,228.75 L679.45,218.42 L679.75,208.50 L680.05,214.06 L680.35,217.35 L680.65,223.96 L680.95,227.47 L681.25,233.25 L681.62,222.42 L682.00,213.00 L682.37,206.45 L682.75,197.75 L683.12,191.25 L683.43,193.19 L683.75,196.45 L684.07,195.97 L684.38,197.50 L684.82,194.50 L685.25,191.88 L685.58,198.04 L685.92,201.82 L686.25,207.50 L686.57,201.41 L686.88,192.50 L687.19,187.08 L687.50,185.80 L687.81,180.58 L688.12,177.50 L688.43,172.40 L688.75,171.68 L689.07,164.21 L689.38,161.25 L689.82,157.91 L690.25,150.00 L690.58,146.69 L690.92,143.56 L691.25,137.50 L691.58,142.06 L691.92,150.73 L692.25,155.00 L692.68,162.52 L693.12,166.25 L693.43,161.10 L693.75,156.25 L694.07,166.08 L694.38,176.25 L694.69,165.38 L695.00,148.12 L695.33,152.31 L695.67,155.49 L696.00,160.00 L696.31,162.93 L696.62,168.08 L696.94,171.68 L697.25,175.00 L697.68,169.61 L698.12,163.75 L698.50,180.62 L698.94,176.30 L699.38,167.50 L699.69,168.95 L700.00,171.25 L700.33,163.53 L700.67,156.48 L701.00,146.25 L701.44,143.07 L701.88,142.50 L702.19,142.29 L702.50,141.76 L702.81,136.05 L703.12,136.25 L703.56,131.70 L704.00,130.00 L704.30,117.00 L704.65,119.65 L705.00,125.00 L705.30,125.10 L705.60,130.00 L705.92,136.84 L706.25,142.50 L706.58,139.89 L706.92,142.75 L707.25,141.90 L707.67,148.46 L708.10,151.25 L708.42,153.06 L708.75,158.66 L709.08,160.49 L709.40,166.90 L709.70,165.25 L710.00,160.62 L710.30,158.57 L710.60,156.25 L710.92,153.82 L711.25,151.96 L711.58,148.30 L711.90,146.25 L712.20,143.14 L712.50,139.29 L712.80,137.02 L713.10,133.75 L713.55,130.85 L714.00,131.00 L714.38,138.58 L714.75,146.00 L715.17,136.49 L715.60,132.00 L715.90,121.36 L716.20,112.00 L716.53,112.49 L716.87,108.10 L717.20,106.00 L717.57,101.53 L717.93,100.67 L718.30,97.50 L718.60,100.49 L718.90,103.85 L719.20,109.29 L719.50,114.50 L719.85,112.21 L720.20,108.00 L720.60,101.00 L721.00,93.00 L721.40,92.12 L721.80,91.50 L722.13,91.46 L722.47,92.43 L722.80,95.00 L723.13,102.25 L723.47,106.32 L723.80,111.50 L724.15,103.51 L724.50,98.00 L724.83,94.26 L725.17,94.22 L725.50,95.00 L726.00,99.00 L726.50,85.00 L726.83,87.05 L727.17,81.17 L727.50,81.50 L727.90,77.90 L728.30,74.50 L728.60,78.61 L728.90,81.96 L729.20,86.00 L729.80,100.00 L730.15,96.64 L730.50,94.00 L730.83,94.71 L731.17,97.63 L731.50,101.50 L731.85,104.95 L732.20,104.00 L732.60,94.02 L733.00,86.00 L733.40,84.60 L733.80,81.00 L734.15,88.30 L734.50,100.00 L734.83,101.31 L735.17,103.67 L735.50,105.00 L735.85,110.35 L736.20,113.00 L736.80,131.00 L737.15,126.04 L737.50,124.00 L737.83,120.44 L738.17,115.84 L738.50,111.00 L739.00,116.00 L739.40,107.04 L739.80,100.00 L740.10,99.87 L740.40,97.33 L740.70,96.72 L741.00,97.00 L741.40,97.48 L741.80,98.00 L742.13,97.47 L742.47,103.86 L742.80,107.00 L743.15,98.20 L743.50,92.00 L743.83,88.10 L744.17,87.45 L744.50,86.00 L744.85,86.24 L745.20,84.50 L745.53,86.47 L745.87,91.15 L746.20,92.00 L746.53,86.99 L746.87,83.29 L747.20,81.50 L747.60,83.52 L748.00,81.50 L748.50,97.50 L748.85,85.02 L749.20,71.50 L749.53,77.23 L749.87,79.43 L750.20,85.00 L750.80,94.00 L751.15,90.55 L751.50,85.00 L751.85,91.34 L752.20,97.00 L752.60,91.34 L753.00,84.00 L753.33,81.37 L753.67,80.23 L754.00,76.00 L754.30,75.28 L754.60,75.00 L754.90,74.45 L755.20,76.50 L755.60,86.26 L756.00,93.00 L756.40,88.54 L756.80,86.00 L757.10,86.64 L757.40,88.78 L757.70,91.42 L758.00,94.00 L758.33,89.35 L758.67,87.62 L759.00,85.00 L759.35,89.68 L759.70,96.00" fill="none" stroke="#08084c" stroke-width="1.3" stroke-linejoin="round" stroke-linecap="round"/>
<path d="M40.00,525.38 L41.00,525.38 L42.25,526.00 L43.50,531.00 L44.75,529.12 L45.25,519.12 L46.25,518.50 L46.88,521.62 L48.75,522.25 L50.25,524.12 L51.25,526.62 L51.88,544.12 L52.50,545.38 L53.50,536.62 L54.75,538.50 L56.00,542.88 L56.88,536.00 L58.12,535.38 L59.00,532.88 L60.62,532.25 L61.88,532.88 L63.12,532.25 L64.00,526.00 L65.62,525.38 L66.88,522.25 L68.12,523.50 L69.00,532.25 L69.75,545.38 L71.00,548.50 L72.75,549.12 L73.12,555.38 L74.00,551.00 L75.00,546.00 L76.00,541.00 L76.88,536.62 L77.50,541.00 L78.75,543.50 L79.75,553.50 L80.62,548.50 L81.88,532.25 L83.12,531.62 L84.00,528.50 L84.75,535.38 L86.00,534.12 L86.88,526.62 L88.50,526.00 L89.75,521.62 L91.00,522.25 L91.88,525.38 L92.50,522.25 L94.00,519.75 L95.00,514.75 L96.00,519.12 L97.50,519.75 L98.50,522.88 L99.38,534.75 L100.00,539.12 L101.25,536.00 L102.25,528.50 L103.50,519.12 L105.00,521.00 L106.00,527.25 L107.25,519.75 L108.50,517.25 L109.75,518.50 L110.62,519.75 L111.88,513.50 L113.12,513.50 L114.38,519.12 L115.62,516.00 L116.88,509.75 L119.00,508.50 L120.00,522.88 L121.50,522.88 L122.25,539.75 L123.75,547.88 L125.62,546.62 L126.88,544.12 L128.12,537.25 L129.00,520.38 L130.62,517.88 L131.88,513.50 L133.12,514.75 L133.75,521.00 L134.75,512.25 L136.25,515.38 L138.12,518.50 L139.38,519.12 L140.00,503.50 L140.62,502.25 L142.50,501.62 L144.38,499.75 L145.62,506.00 L146.88,509.12 L147.50,515.38 L148.75,516.00 L149.00,519.12 L150.00,514.75 L151.25,516.62 L151.88,546.00 L153.12,550.38 L154.38,540.38 L155.62,526.62 L156.88,527.25 L158.12,531.00 L159.00,537.25 L159.38,556.00 L160.62,550.38 L161.50,557.25 L163.12,561.62 L164.38,551.00 L166.00,549.12 L166.88,556.62 L168.12,561.00 L169.00,567.25 L170.00,559.75 L171.88,559.12 L173.12,557.88 L173.50,546.62 L174.75,545.38 L176.50,551.00 L178.12,546.00 L179.38,544.12 L180.62,539.12 L181.88,527.88 L183.75,524.12 L185.00,527.25 L186.50,531.00 L188.12,532.88 L189.38,533.50 L190.62,547.88 L191.88,546.00 L193.12,532.25 L194.38,527.88 L195.62,518.50 L196.88,522.25 L198.50,522.88 L199.00,539.75 L200.00,537.88 L200.62,532.25 L202.50,531.00 L204.00,531.00 L205.25,533.50 L206.25,530.38 L207.25,524.75 L208.12,516.00 L209.38,516.00 L210.25,522.25 L211.88,525.38 L212.50,544.12 L213.75,542.88 L214.75,541.62 L215.62,552.25 L216.50,564.75 L218.12,562.88 L219.38,564.12 L220.00,556.00 L221.25,543.50 L222.50,537.25 L223.50,532.88 L224.38,524.75 L225.62,532.25 L226.88,533.50 L228.12,551.00 L229.38,547.25 L230.25,529.12 L231.88,520.38 L233.12,522.88 L234.38,522.88 L235.62,539.12 L236.88,533.50 L237.75,529.12 L239.00,533.50 L239.75,559.75 L240.00,560.38 L241.00,554.12 L241.88,543.50 L243.12,536.62 L244.75,536.00 L245.62,544.12 L246.50,564.12 L248.12,563.50 L248.75,568.50 L249.38,549.75 L250.62,542.88 L251.50,540.38 L252.25,528.50 L253.50,540.38 L254.75,533.50 L256.88,533.50 L258.50,537.25 L259.00,547.25 L260.00,534.12 L261.00,534.75 L261.88,546.00 L263.50,556.00 L265.00,550.38 L266.00,532.25 L267.25,526.62 L268.75,526.00 L270.00,527.25 L271.25,526.62 L272.75,529.75 L273.75,522.88 L275.00,522.88 L276.25,526.00 L277.50,522.88 L277.88,514.75 L278.75,527.88 L281.00,527.88 L281.88,522.25 L283.50,522.25 L285.00,520.38 L286.25,519.12 L287.50,512.88 L289.00,507.88 L290.25,509.75 L291.25,516.00 L292.50,514.75 L294.38,515.38 L295.62,517.25 L296.88,512.25 L298.12,508.50 L300.25,505.38 L301.88,507.25 L303.75,509.12 L305.00,505.38 L306.88,504.75 L308.12,512.25 L309.00,521.00 L310.00,525.38 L311.00,522.88 L311.88,509.75 L313.50,506.00 L315.62,504.12 L317.25,506.00 L319.00,506.00 L320.62,512.25 L321.88,512.25 L322.50,505.38 L324.00,505.38 L324.75,525.38 L325.62,526.00 L326.50,516.00 L328.12,514.75 L329.38,508.50 L331.00,503.50 L333.12,502.88 L335.25,502.25 L336.88,507.88 L338.12,504.75 L339.38,506.00 L340.00,524.75 L340.62,524.75 L341.50,543.50 L342.75,547.25 L343.75,539.12 L344.75,528.50 L345.62,524.12 L346.25,512.25 L347.75,509.75 L349.00,506.62 L350.25,507.88 L351.00,514.12 L351.88,523.50 L353.12,529.75 L354.00,541.62 L355.00,544.12 L356.25,539.12 L357.50,536.00 L358.75,536.00 L360.25,534.75 L361.00,542.88 L362.50,543.50 L364.00,546.62 L365.00,555.38 L365.62,550.38 L366.50,539.75 L368.12,539.75 L369.38,542.25 L370.62,544.12 L371.25,561.62 L372.25,569.75 L373.12,574.12 L373.75,569.12 L375.00,565.38 L376.00,559.75 L376.88,567.25 L378.12,572.25 L379.00,565.38 L380.00,543.50 L381.00,539.12 L382.25,537.25 L383.12,532.88 L384.00,530.38 L385.00,526.62 L386.25,529.12 L387.25,533.50 L387.75,537.88 L388.75,529.75 L389.38,519.75 L390.25,512.25 L391.88,511.62 L392.75,516.62 L393.75,519.75 L394.38,527.88 L395.25,528.50 L396.25,522.88 L397.25,523.50 L398.12,533.50 L399.00,543.50 L400.00,547.25 L401.00,561.00 L402.50,561.00 L403.75,564.75 L404.75,569.75 L405.62,544.75 L406.88,542.25 L408.12,536.62 L409.00,539.75 L410.00,529.12 L411.00,514.75 L412.25,512.88 L413.12,516.62 L414.38,516.62 L415.25,522.25 L416.25,525.38 L416.88,541.00 L417.75,548.50 L418.75,551.62 L419.75,546.00 L421.00,533.50 L422.25,531.62 L423.12,525.38 L424.38,526.00 L425.00,538.50 L426.25,545.38 L427.25,546.00 L427.75,571.00 L429.38,566.62 L430.25,568.50 L431.50,566.62 L432.25,569.75 L433.12,582.25 L434.38,579.75 L435.25,578.50 L436.00,573.50 L436.88,549.12 L438.12,544.75 L439.38,551.62 L440.00,547.25 L441.88,550.62 L442.50,562.50 L443.75,566.25 L445.25,570.62 L446.88,572.50 L447.75,581.25 L449.38,581.25 L450.00,575.62 L451.00,586.25 L451.88,578.12 L453.12,581.25 L454.00,585.00 L455.25,583.75 L456.00,589.38 L457.50,588.75 L459.00,589.38 L460.00,586.25 L461.25,586.25 L462.25,577.50 L462.75,567.50 L463.75,561.25 L464.38,555.00 L465.62,551.88 L466.88,550.00 L467.75,545.62 L469.38,544.38 L470.62,545.62 L471.88,545.62 L472.50,555.00 L473.50,561.25 L474.38,555.62 L475.62,562.50 L476.88,565.00 L478.12,566.88 L479.38,566.88 L480.00,556.25 L480.62,545.62 L482.25,546.25 L483.12,551.25 L483.75,567.50 L484.75,573.75 L486.25,575.62 L487.50,573.75 L488.50,577.50 L490.00,581.25 L491.25,583.75 L491.88,587.50 L492.75,563.75 L493.75,558.12 L495.00,552.50 L496.25,550.00 L497.75,548.12 L499.38,545.62 L500.00,543.12 L500.62,551.25 L501.50,557.50 L503.12,563.12 L504.38,561.25 L505.62,551.25 L506.88,551.25 L508.12,554.38 L509.00,554.38 L510.00,558.12 L510.62,538.75 L511.88,537.50 L513.12,538.75 L514.00,541.25 L514.75,557.50 L515.25,571.25 L516.88,568.75 L517.75,565.00 L518.75,542.50 L520.00,538.12 L521.88,536.88 L522.50,550.00 L523.75,546.25 L524.75,543.12 L526.00,542.50 L526.50,526.88 L527.50,530.00 L528.50,530.62 L529.00,549.38 L530.00,553.75 L531.00,559.38 L531.88,565.00 L533.75,568.75 L535.00,566.25 L536.25,565.62 L537.50,568.12 L538.12,572.50 L539.38,576.88 L540.00,575.00 L540.62,571.88 L542.50,572.50 L544.38,572.50 L545.62,569.38 L546.88,566.25 L548.12,563.12 L549.00,562.50 L549.75,557.50 L550.62,564.38 L552.50,565.62 L554.38,566.25 L555.25,562.50 L556.25,560.00 L557.25,551.88 L558.50,546.25 L559.75,541.25 L561.25,540.62 L562.25,541.88 L563.12,536.88 L564.38,536.25 L565.62,530.00 L566.50,532.50 L568.12,531.88 L569.38,533.12 L570.62,538.75 L572.25,539.38 L573.50,540.62 L574.38,540.62 L575.25,528.75 L576.50,526.88 L578.12,528.12 L579.38,528.12 L580.25,533.12 L581.50,536.88 L583.12,542.50 L584.38,548.12 L586.00,553.75 L587.25,555.00 L588.12,546.25 L589.38,541.88 L590.62,540.62 L591.88,543.12 L592.75,548.12 L594.38,552.50 L595.62,555.00 L596.50,563.75 L597.25,548.75 L598.50,543.12 L599.75,542.50 L601.00,543.75 L602.25,548.75 L603.50,551.88 L604.38,551.25 L605.25,546.88 L606.25,544.38 L607.25,543.75 L608.12,539.38 L609.38,548.12 L610.62,546.25 L611.50,548.75 L612.25,538.75 L613.12,534.38 L614.38,538.75 L615.62,540.62 L616.25,546.25 L617.25,541.88 L618.75,540.00 L619.38,527.50 L620.62,522.50 L621.88,521.88 L623.50,524.38 L624.00,536.25 L625.00,539.38 L626.25,542.50 L628.12,543.12 L629.00,546.25 L630.25,551.25 L631.25,551.25 L632.50,548.12 L633.75,544.38 L634.38,546.88 L635.62,541.88 L636.50,550.00 L637.75,557.50 L639.38,561.25 L640.00,562.50 L641.50,564.38 L643.12,568.75 L644.38,563.75 L646.88,563.75 L647.50,552.50 L648.75,549.38 L650.62,550.00 L651.88,551.88 L653.12,547.50 L654.75,547.50 L655.62,553.75 L656.88,548.75 L658.50,548.12 L660.00,547.50 L660.62,553.75 L661.88,558.75 L662.75,560.62 L663.75,558.12 L664.38,550.00 L665.62,542.50 L666.50,534.38 L667.75,530.00 L669.00,525.62 L670.62,523.75 L672.25,522.50 L673.12,519.38 L674.38,519.38 L675.25,513.75 L676.50,513.75 L677.25,518.12 L679.38,518.12 L680.62,519.38 L681.88,520.00 L682.75,524.38 L684.38,526.25 L685.25,525.62 L686.25,522.50 L687.25,526.25 L688.50,528.75 L690.00,531.25 L691.88,533.75 L693.12,533.75 L694.00,531.25 L695.62,530.00 L696.88,527.50 L698.12,521.25 L699.75,520.62 L701.00,526.25 L701.88,532.50 L703.12,537.50 L704.38,539.38 L705.62,543.12 L706.88,540.00 L708.12,536.88 L709.38,530.62 L711.00,530.00 L711.88,533.12 L713.12,536.88 L714.00,540.00 L715.62,540.00 L716.88,545.00 L717.50,553.75 L718.75,560.00 L720.00,562.50 L721.50,563.63 L723.38,564.75 L724.65,557.63 L726.38,557.63 L727.88,558.75 L729.38,558.00 L730.50,552.38 L732.00,551.25 L733.50,552.00 L733.88,556.13 L735.38,556.13 L735.75,549.38 L736.65,541.50 L737.40,533.63 L739.65,533.63 L740.63,536.25 L741.38,540.38 L742.50,541.88 L744.00,541.13 L744.60,546.75 L745.88,550.88 L747.38,550.88 L748.88,549.75 L750.00,548.63 L750.38,555.00 L751.13,547.13 L752.63,547.50 L754.13,550.88 L755.25,552.38 L756.00,552.38 L756.60,546.38 L758.25,544.88 L759.00,541.50 L759.75,540.38" fill="none" stroke="#1010ff" stroke-width="1.3" stroke-linejoin="round" stroke-linecap="round"/>
<path d="M40.00,690.62 L41.00,690.62 L41.88,691.25 L42.75,696.88 L43.50,693.75 L44.38,698.75 L46.00,700.62 L47.50,703.12 L48.75,701.88 L50.00,696.88 L51.25,691.88 L52.50,691.88 L53.12,700.62 L54.38,703.75 L56.00,701.88 L57.50,701.25 L58.75,700.00 L60.00,698.12 L61.25,696.88 L62.50,696.88 L63.12,701.25 L64.38,701.88 L65.25,705.62 L66.88,706.25 L68.12,705.62 L69.00,701.88 L70.62,701.25 L71.88,698.12 L72.75,691.25 L73.75,691.88 L74.75,696.25 L75.62,702.50 L76.50,711.25 L77.50,708.12 L79.00,708.12 L79.75,702.50 L81.25,701.25 L82.50,702.50 L83.50,705.00 L84.75,702.50 L86.25,701.25 L88.12,700.00 L89.00,698.12 L89.75,693.75 L91.25,693.75 L92.25,696.88 L93.12,703.12 L94.00,693.75 L95.62,693.75 L96.88,693.75 L97.75,698.75 L98.75,703.12 L99.75,707.50 L101.25,710.00 L102.50,707.50 L103.50,704.38 L105.00,705.00 L106.25,707.50 L107.50,705.00 L108.75,705.00 L109.75,708.75 L111.00,711.25 L112.50,713.12 L114.38,715.00 L115.62,715.62 L116.50,712.50 L117.50,709.38 L119.38,708.75 L121.00,708.75 L121.88,703.75 L123.12,703.75 L124.00,706.88 L125.62,707.50 L126.88,708.12 L128.12,703.75 L129.38,703.75 L130.62,706.25 L131.88,710.62 L133.12,712.50 L134.38,711.88 L135.62,708.75 L136.88,710.00 L138.12,711.88 L139.38,711.25 L140.00,707.50 L140.62,706.25 L142.50,706.25 L143.75,705.62 L145.00,709.38 L146.50,711.88 L147.75,715.62 L149.38,715.62 L151.00,715.62 L151.50,698.75 L152.50,693.75 L153.50,694.38 L154.38,698.75 L155.62,702.50 L156.88,701.25 L158.50,701.88 L160.00,704.38 L161.00,702.50 L161.88,696.25 L163.12,690.00 L164.75,690.00 L165.62,696.25 L166.50,696.25 L167.25,681.25 L168.50,680.00 L168.75,671.88 L169.50,671.88 L170.00,683.12 L170.62,688.75 L171.88,690.62 L172.75,691.25 L173.50,698.75 L175.00,697.50 L176.25,696.88 L176.88,701.88 L178.12,706.25 L179.38,710.00 L180.62,713.12 L181.88,708.12 L183.12,701.25 L184.38,700.00 L185.25,705.00 L186.50,705.62 L187.50,715.00 L189.00,715.00 L189.75,710.00 L191.00,708.75 L192.50,711.25 L194.38,713.12 L195.62,715.62 L197.25,718.12 L198.75,715.62 L200.62,715.00 L202.50,714.38 L204.00,715.00 L205.62,716.88 L206.50,720.00 L207.75,720.62 L208.50,716.25 L210.00,718.75 L211.88,718.12 L212.50,715.00 L213.75,718.12 L214.75,717.50 L215.25,706.25 L216.25,698.75 L217.25,704.38 L218.75,704.38 L219.75,711.25 L221.00,715.00 L221.88,717.50 L223.12,715.62 L225.00,715.00 L226.88,715.00 L228.12,714.38 L229.00,717.50 L230.00,720.00 L231.25,715.00 L232.25,720.62 L233.12,720.62 L234.00,716.25 L235.25,717.50 L236.25,718.12 L237.25,721.88 L238.50,721.25 L239.38,711.25 L240.00,707.50 L241.00,715.00 L242.25,716.25 L243.12,721.25 L245.00,720.62 L246.00,715.00 L246.50,703.75 L249.00,703.75 L249.75,714.38 L251.25,713.75 L252.50,710.62 L253.50,716.25 L254.75,720.62 L256.25,722.50 L257.75,721.88 L258.75,716.88 L260.00,718.75 L261.50,717.50 L262.75,713.75 L263.75,711.88 L264.75,717.50 L266.00,721.25 L267.75,720.00 L269.38,720.00 L270.00,717.50 L271.25,721.25 L272.75,720.62 L273.75,716.88 L274.75,721.88 L276.25,721.88 L277.25,717.50 L278.12,715.62 L279.38,720.00 L281.00,721.88 L281.88,717.50 L283.12,719.38 L284.75,721.88 L285.62,719.38 L286.88,711.25 L288.12,707.50 L289.38,706.88 L290.25,713.75 L291.25,720.62 L293.12,720.62 L294.38,720.00 L295.62,720.62 L296.88,716.25 L298.12,713.75 L299.38,712.50 L300.62,716.88 L301.88,717.50 L303.12,720.00 L305.00,720.62 L306.88,721.88 L308.12,725.00 L309.75,725.62 L311.25,726.25 L312.25,721.88 L313.50,716.88 L314.38,721.88 L316.25,721.25 L318.12,720.62 L319.38,725.00 L321.00,726.88 L322.25,728.12 L323.75,725.62 L325.00,723.75 L326.25,725.62 L328.12,727.50 L329.00,725.00 L330.00,725.00 L331.00,720.62 L332.50,718.75 L334.38,718.75 L335.62,720.62 L337.50,721.88 L339.38,723.75 L340.00,726.25 L341.50,725.00 L342.50,720.00 L343.50,725.62 L345.00,726.25 L346.25,721.88 L348.12,722.50 L350.00,723.75 L351.88,725.62 L353.12,725.00 L354.00,720.00 L355.25,719.38 L356.00,723.75 L357.50,725.62 L358.75,725.62 L360.00,727.50 L361.25,724.38 L362.75,722.50 L363.75,719.38 L364.75,715.00 L365.62,718.12 L366.50,723.12 L367.75,723.12 L369.00,720.62 L370.25,720.00 L371.00,711.25 L371.88,701.25 L373.12,696.88 L374.38,700.00 L375.62,702.50 L376.50,706.25 L377.50,701.88 L378.75,701.88 L379.75,712.50 L381.00,713.12 L381.88,716.25 L383.50,716.88 L384.75,718.12 L386.25,716.25 L388.12,715.62 L389.38,713.75 L390.25,711.88 L391.50,710.62 L392.75,713.12 L394.00,715.00 L395.00,715.00 L396.00,719.38 L397.25,721.25 L398.75,721.25 L400.00,718.75 L400.62,708.12 L401.88,705.00 L403.12,703.75 L404.75,701.25 L405.62,708.75 L406.88,711.25 L408.12,715.62 L409.75,715.62 L410.62,712.50 L411.88,712.50 L413.12,711.25 L414.38,712.50 L415.62,713.75 L416.25,718.12 L417.25,711.25 L418.50,711.88 L419.38,718.12 L420.25,721.25 L421.50,719.38 L422.75,715.62 L423.75,719.38 L425.00,716.25 L426.00,711.88 L426.88,711.25 L427.50,693.75 L428.75,694.38 L429.75,696.88 L430.62,695.00 L431.88,700.62 L432.75,695.00 L433.75,690.00 L435.25,689.38 L436.00,696.88 L436.88,707.50 L438.12,708.12 L439.00,703.12 L440.00,701.88 L441.50,705.00 L442.50,690.62 L443.50,700.00 L445.00,698.12 L446.88,697.50 L447.75,690.62 L448.75,685.62 L450.25,686.88 L451.00,681.25 L451.88,686.88 L452.75,681.25 L453.50,673.75 L454.00,683.75 L455.25,686.88 L456.00,683.12 L457.25,681.25 L458.12,675.62 L459.38,673.12 L461.25,673.12 L461.88,681.25 L462.75,690.62 L463.75,697.50 L465.62,698.12 L466.88,699.38 L468.12,701.88 L469.75,698.12 L470.62,702.50 L471.88,705.62 L472.75,698.12 L473.75,695.00 L474.75,698.75 L476.00,693.75 L477.50,691.88 L478.50,691.88 L479.00,697.50 L479.75,706.25 L481.00,708.12 L482.50,708.12 L483.50,705.00 L484.00,693.75 L485.00,688.12 L486.25,683.75 L487.25,681.25 L488.12,675.62 L489.38,675.00 L490.25,688.75 L491.25,691.88 L491.88,686.88 L492.75,698.12 L494.00,701.25 L495.25,703.75 L496.88,700.00 L498.12,701.88 L500.00,703.12 L500.62,698.12 L501.50,691.88 L502.50,699.38 L503.50,696.88 L504.75,697.50 L505.62,703.12 L506.88,702.50 L508.12,698.12 L509.75,697.50 L511.00,701.25 L512.50,700.00 L513.75,698.75 L514.75,691.25 L515.62,683.12 L517.25,681.88 L517.75,688.75 L520.00,688.75 L521.00,686.25 L521.88,690.62 L523.50,690.62 L525.00,692.50 L526.25,695.00 L527.50,696.88 L528.75,690.00 L530.00,690.00 L531.00,683.75 L531.88,672.50 L533.12,667.50 L534.00,670.00 L535.00,674.38 L535.62,670.00 L536.88,665.62 L537.50,670.62 L539.38,671.25 L540.00,671.88 L541.25,674.38 L543.12,673.75 L545.00,670.62 L545.62,663.75 L546.50,663.75 L547.25,671.25 L548.12,668.12 L549.00,667.50 L549.75,678.12 L550.62,673.12 L551.88,673.75 L553.12,670.00 L554.00,668.12 L554.75,660.00 L555.62,653.75 L556.00,647.50 L556.62,648.75 L557.00,670.00 L558.12,673.12 L559.75,673.75 L561.25,673.75 L562.50,676.88 L564.38,676.88 L565.25,686.25 L566.00,694.38 L567.50,692.50 L569.00,693.75 L570.00,692.50 L571.00,685.00 L572.25,684.38 L572.75,680.00 L573.50,686.25 L574.38,687.50 L575.62,692.50 L577.25,693.75 L578.50,693.75 L579.75,688.12 L581.25,685.62 L582.50,683.75 L583.75,680.00 L584.75,681.25 L585.25,691.88 L587.25,691.88 L588.12,693.75 L589.00,696.88 L590.62,695.62 L591.50,691.25 L592.75,688.12 L593.75,684.38 L594.75,678.75 L596.00,677.50 L596.88,681.88 L597.75,689.38 L599.38,691.25 L600.62,691.88 L601.50,688.12 L602.50,681.88 L604.00,681.25 L604.75,693.75 L606.25,694.38 L608.12,693.12 L609.38,691.25 L610.25,687.50 L611.50,683.12 L612.50,686.88 L613.75,688.75 L615.25,689.38 L616.25,685.62 L618.12,685.00 L620.00,683.75 L620.62,691.88 L621.88,693.75 L623.12,690.62 L624.00,684.38 L625.62,683.12 L626.50,678.12 L628.12,677.50 L629.00,670.00 L629.75,653.75 L630.62,657.50 L631.88,658.12 L632.75,666.25 L634.00,669.38 L635.00,663.75 L636.50,660.62 L637.50,646.88 L638.75,638.12 L640.00,635.62 L640.62,634.38 L641.88,633.75 L642.50,628.12 L643.50,628.12 L644.00,643.12 L645.62,643.12 L647.25,643.75 L647.75,651.25 L648.75,656.25 L650.00,653.75 L651.00,650.00 L652.25,650.00 L652.50,671.25 L653.50,674.38 L654.75,672.50 L655.62,669.38 L656.88,672.50 L658.12,669.38 L659.38,668.12 L661.00,668.75 L661.88,666.25 L662.50,660.00 L663.50,660.00 L664.00,669.38 L665.25,670.62 L666.25,663.75 L667.50,663.75 L668.12,676.88 L669.00,681.25 L670.62,680.62 L671.50,685.00 L673.12,686.88 L675.00,688.12 L676.88,688.12 L678.50,687.50 L679.75,690.00 L680.25,705.62 L681.25,709.38 L682.50,707.50 L683.50,705.62 L685.00,706.25 L686.88,705.00 L688.12,701.25 L689.00,697.50 L690.62,691.88 L691.50,696.25 L692.50,701.88 L694.38,701.88 L696.25,700.62 L698.12,700.00 L699.38,698.75 L700.00,704.38 L701.25,703.75 L701.88,698.12 L703.75,697.50 L704.75,689.38 L706.25,690.00 L707.50,689.38 L708.75,695.62 L710.25,696.88 L711.88,696.25 L713.12,693.75 L714.00,690.62 L715.62,691.88 L716.88,690.62 L717.50,681.63 L718.40,674.50 L719.38,671.88 L720.13,674.50 L720.88,671.88 L721.63,665.88 L722.75,665.88 L723.65,670.75 L725.38,670.75 L725.60,662.50 L726.65,659.50 L727.63,659.50 L727.85,673.00 L729.13,674.50 L729.65,679.00 L730.63,682.38 L732.13,683.13 L733.40,680.88 L734.00,676.75 L735.13,676.00 L735.50,681.63 L736.63,683.50 L738.35,683.50 L738.88,689.50 L739.63,691.75 L740.15,693.63 L741.13,690.25 L742.25,689.50 L743.00,691.38 L744.13,690.63 L744.65,685.75 L745.63,681.25 L746.75,680.50 L747.65,684.63 L749.00,684.25 L749.60,679.00 L750.50,677.50 L751.25,682.00 L752.38,680.13 L753.13,679.38 L753.65,674.50 L754.63,669.63 L755.38,669.63 L755.75,681.25 L756.35,682.00 L756.65,686.88 L758.00,687.63 L759.13,688.75 L759.88,689.88" fill="none" stroke="#1010ff" stroke-width="1.3" stroke-linejoin="round" stroke-linecap="round"/>
<g shape-rendering="crispEdges" fill="#000">
<rect x="40" y="30" width="721" height="1"/>
<rect x="40" y="30" width="1" height="713"/>
<rect x="760" y="30" width="1" height="713"/>
<rect x="40" y="742" width="721" height="1"/>
<rect x="40" y="480" width="721" height="2"/>
<rect x="40" y="611" width="721" height="2"/>
<rect x="756" y="56" width="4" height="1"/>
<rect x="756" y="67" width="4" height="1"/>
<rect x="756" y="78" width="4" height="1"/>
<rect x="756" y="90" width="4" height="1"/>
<rect x="756" y="102" width="4" height="1"/>
<rect x="756" y="115" width="4" height="1"/>
<rect x="756" y="129" width="4" height="1"/>
<rect x="756" y="144" width="4" height="1"/>
<rect x="756" y="160" width="4" height="1"/>
<rect x="756" y="178" width="4" height="1"/>
<rect x="756" y="197" width="4" height="1"/>
<rect x="756" y="218" width="4" height="1"/>
<rect x="756" y="241" width="4" height="1"/>
<rect x="756" y="266" width="4" height="1"/>
<rect x="756" y="295" width="4" height="1"/>
<rect x="756" y="329" width="4" height="1"/>
<rect x="756" y="369" width="4" height="1"/>
<rect x="756" y="417" width="4" height="1"/>
<rect x="756" y="513" width="4" height="1"/>
<rect x="756" y="533" width="4" height="1"/>
<rect x="756" y="552" width="4" height="1"/>
<rect x="756" y="572" width="4" height="1"/>
<rect x="756" y="591" width="4" height="1"/>
<rect x="756" y="654" width="4" height="1"/>
<rect x="756" y="683" width="4" height="1"/>
<rect x="756" y="713" width="4" height="1"/>
</g><g shape-rendering="crispEdges" fill="#77779a">
<rect x="756" y="494" width="3" height="1"/>
<rect x="756" y="625" width="3" height="1"/>
</g><g shape-rendering="crispEdges" fill="#000">
<rect x="68" y="742" width="1" height="3"/>
<rect x="163" y="742" width="1" height="3"/>
<rect x="258" y="742" width="1" height="3"/>
<rect x="352" y="742" width="1" height="3"/>
<rect x="447" y="742" width="1" height="3"/>
<rect x="542" y="742" width="1" height="3"/>
<rect x="636" y="742" width="1" height="3"/>
<rect x="732" y="742" width="1" height="3"/>
</g>
<g font-size="10.67" fill="#000">
<text x="763.6" y="61">2100</text>
<text x="763.6" y="72">2000</text>
<text x="763.6" y="83">1900</text>
<text x="763.6" y="95">1800</text>
<text x="763.6" y="107">1700</text>
<text x="763.6" y="120">1600</text>
<text x="763.6" y="134">1500</text>
<text x="763.6" y="149">1400</text>
<text x="763.6" y="165">1300</text>
<text x="763.6" y="183">1200</text>
<text x="763.6" y="202">1100</text>
<text x="763.6" y="223">1000</text>
<text x="763.6" y="246">900</text>
<text x="763.6" y="271">800</text>
<text x="763.6" y="300">700</text>
<text x="763.6" y="334">600</text>
<text x="763.6" y="374">500</text>
<text x="763.6" y="422">400</text>
<text x="763.6" y="484.5">300</text>
<text x="763.6" y="498.8">0</text>
<text x="764.4" y="517.8">−20,000</text>
<text x="764.4" y="537.8">−40,000</text>
<text x="764.4" y="556.8">−60,000</text>
<text x="764.4" y="576.8">−80,000</text>
<text x="764.4" y="595.8">−100,000</text>
<text x="764.4" y="615.8">−120,000</text>
<text x="763.6" y="629.7">250000</text>
<text x="763.6" y="658.7">200000</text>
<text x="763.6" y="687.7">150000</text>
<text x="763.6" y="717.7">100000</text>
<text x="763.6" y="746.7">50000</text>
<text x="68.7" y="756" text-anchor="middle">1996</text>
<text x="163.7" y="756" text-anchor="middle">1998</text>
<text x="258.7" y="756" text-anchor="middle">2000</text>
<text x="352.7" y="756" text-anchor="middle">2002</text>
<text x="447.7" y="756" text-anchor="middle">2004</text>
<text x="542.7" y="756" text-anchor="middle">2006</text>
<text x="636.7" y="756" text-anchor="middle">2008</text>
<text x="732.7" y="756" text-anchor="middle">2010</text>
</g>
<g font-size="11" font-weight="bold" fill="#000">
<rect x="45" y="34" width="8" height="8" fill="#00004a" shape-rendering="crispEdges"/>
<text x="57.6" y="42" textLength="115.3" lengthAdjust="spacingAndGlyphs">Typical Price: 1,847.13</text>
<rect x="45.5" y="485.5" width="7" height="7" fill="none" stroke="#000" stroke-width="1" shape-rendering="crispEdges"/>
<text x="57.6" y="493" textLength="85" lengthAdjust="spacingAndGlyphs">Date: 07/27/2010</text>
<rect x="166.5" y="485.5" width="7" height="7" fill="#0000ff" stroke="#000" stroke-width="1" shape-rendering="crispEdges"/>
<text x="177.6" y="493" textLength="128.6" lengthAdjust="spacingAndGlyphs">Commercials: -47,158.00</text>
<rect x="45.5" y="616.5" width="7" height="7" fill="#0000ff" stroke="#000" stroke-width="1" shape-rendering="crispEdges"/>
<text x="57.3" y="624" textLength="139.3" lengthAdjust="spacingAndGlyphs">COT Window II: 140,263.00</text>
</g>
</svg></body></html>
